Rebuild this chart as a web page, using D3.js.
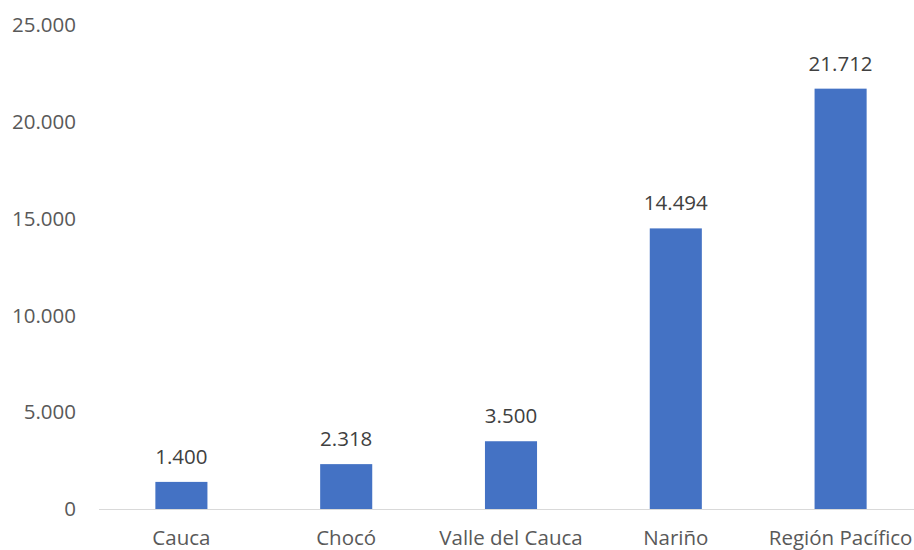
<!DOCTYPE html>
<html>
<head>
<meta charset="utf-8">
<script src="https://cdn.jsdelivr.net/npm/d3@7"></script>
<style>
  body { margin: 0; background: #fff; }
  text { font-family: "Open Sans", "Noto Sans", sans-serif; }
</style>
</head>
<body>
<div id="chart"></div>
<script>
// data
let categories = ["Cauca", "Chocó", "Valle del Cauca", "Nariño", "Región Pacífico"];
let values = [1400, 2318, 3500, 14494, 21712];
let yTicks = [0, 5000, 10000, 15000, 20000, 25000];

let svgWidth = 914;
let svgHeight = 550;

// spanish style number format (dot for thousands)
let esLocale = d3.formatLocale({ decimal: ",", thousands: ".", grouping: [3], currency: ["$", ""] });
let fmt = esLocale.format(",d");

let x = d3.scaleBand()
    .domain(categories)
    .range([99, 923])
    .paddingInner(0.684)
    .paddingOuter(0.342);

let y = d3.scaleLinear().domain([0, 25000]).range([509, 25]);

let svg = d3.select("#chart")
    .append("svg")
    .attr("width", svgWidth)
    .attr("height", svgHeight);

// y tick labels (no axis line, no gridlines)
svg.selectAll("text.ytick")
    .data(yTicks)
    .enter()
    .append("text")
    .attr("class", "ytick")
    .attr("x", 76)
    .attr("y", function(d) { return y(d); })
    .attr("dy", "0.35em")
    .attr("text-anchor", "end")
    .style("font-size", "20.5px")
    .style("fill", "#595959")
    .text(function(d) { return fmt(d); });

// bars
svg.selectAll("rect.bar")
    .data(values)
    .enter()
    .append("rect")
    .attr("class", "bar")
    .attr("x", function(d, i) { return x(categories[i]); })
    .attr("y", function(d) { return y(d); })
    .attr("width", x.bandwidth())
    .attr("height", function(d) { return y(0) - y(d); })
    .attr("fill", "#4472C4");

// x axis line
svg.append("line")
    .attr("x1", x.range()[0])
    .attr("x2", svgWidth)
    .attr("y1", y(0) + 0.5)
    .attr("y2", y(0) + 0.5)
    .style("stroke", "#d9d9d9")
    .style("stroke-width", 1);

// category labels
svg.selectAll("text.cat")
    .data(categories)
    .enter()
    .append("text")
    .attr("class", "cat")
    .attr("x", function(d) { return x(d) + x.bandwidth() / 2; })
    .attr("y", 545)
    .attr("text-anchor", "middle")
    .style("font-size", "20.5px")
    .style("fill", "#595959")
    .text(function(d) { return d; });

// value labels
svg.selectAll("text.val")
    .data(values)
    .enter()
    .append("text")
    .attr("class", "val")
    .attr("x", function(d, i) { return x(categories[i]) + x.bandwidth() / 2; })
    .attr("y", function(d) { return y(d) - 18; })
    .attr("text-anchor", "middle")
    .style("font-size", "20.5px")
    .style("fill", "#404040")
    .text(function(d) { return fmt(d); });
</script>
</body>
</html>
